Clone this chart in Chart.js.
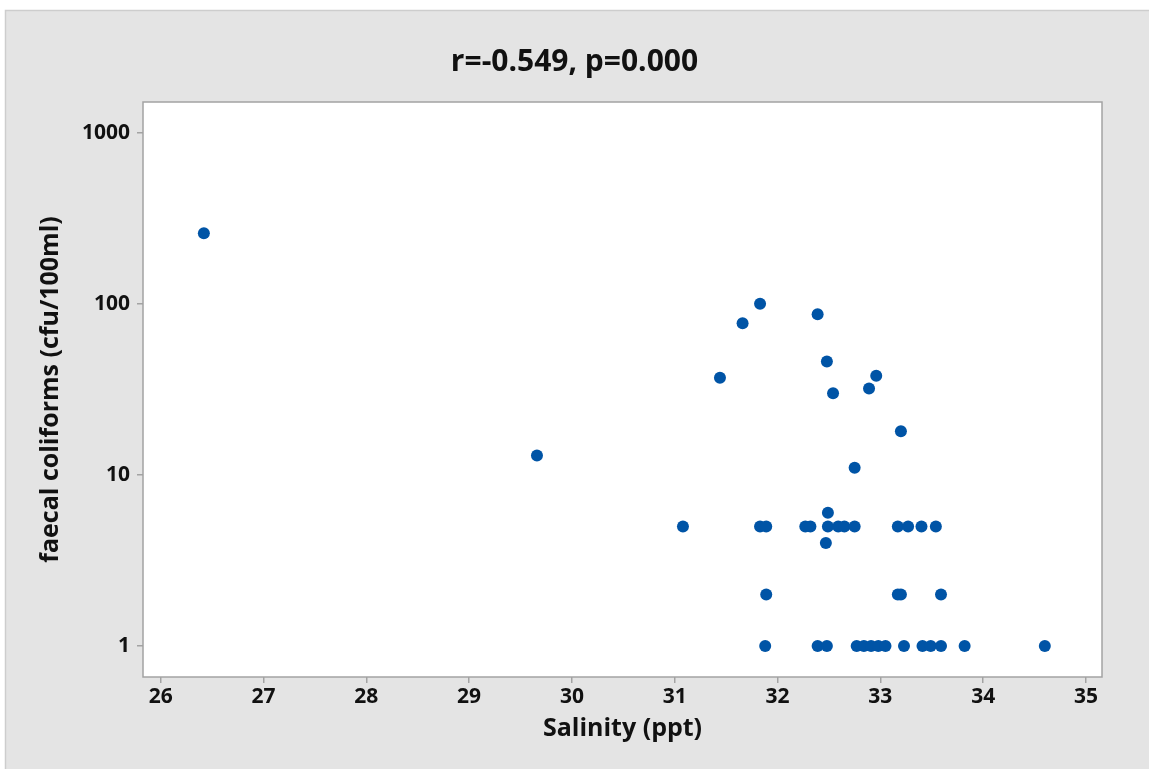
<!DOCTYPE html>
<html>
<head>
<meta charset="utf-8">
<title>Faecal coliforms vs salinity</title>
<script src="https://cdn.jsdelivr.net/npm/chart.js@4/dist/chart.umd.min.js"></script>
<style>
  html, body { margin: 0; padding: 0; background: #ffffff; }
  #wrap { width: 1149px; height: 769px; }
</style>
</head>
<body>
<div id="wrap"><canvas id="salinityChart" width="1149" height="769"></canvas></div>
<script>
// salinity (ppt) and faecal coliform count (cfu/100ml) per sample
const salinity = [
  26.42, 29.66, 31.08, 31.83, 31.66, 32.39, 32.48, 31.44, 32.96, 32.89, 32.54, 33.20, 32.75,
  31.83, 31.89, 32.27, 32.32, 32.49, 32.59, 32.65, 32.75, 33.17, 33.27, 33.40, 33.54,
  32.49, 32.47,
  31.89, 33.17, 33.20, 33.59,
  31.88, 32.39, 32.48, 32.77, 32.84, 32.91, 32.98, 33.05, 33.23, 33.41, 33.49, 33.59, 33.82, 34.60
];
const coliforms = [
  258, 13, 5, 100, 77, 87, 46, 37, 38, 32, 30, 18, 11,
  5, 5, 5, 5, 5, 5, 5, 5, 5, 5, 5, 5,
  6, 4,
  2, 2, 2, 2,
  1, 1, 1, 1, 1, 1, 1, 1, 1, 1, 1, 1, 1, 1
];
const xTicks = [26, 27, 28, 29, 30, 31, 32, 33, 34, 35];
const yTicks = [1, 10, 100, 1000];

const titleText = 'r=-0.549, p=0.000';
const xTitle = 'Salinity (ppt)';
const yTitle = 'faecal coliforms (cfu/100ml)';

const FONT = "'Open Sans', 'Noto Sans', sans-serif";

const points = salinity.map((s, i) => ({ x: s, y: coliforms[i] }));

// grey panel behind everything, white plot area, grey frame
const panelPlugin = {
  id: 'panel',
  beforeDraw(chart) {
    const { ctx, chartArea: a, width, height } = chart;
    ctx.save();
    ctx.fillStyle = '#ffffff';
    ctx.fillRect(0, 0, width, height);
    ctx.fillStyle = '#e4e4e4';
    ctx.fillRect(5, 10, width - 5, height - 10);
    ctx.strokeStyle = '#cdcdcd';
    ctx.lineWidth = 1.5;
    ctx.beginPath();
    ctx.moveTo(5.5, height);
    ctx.lineTo(5.5, 10.5);
    ctx.lineTo(width, 10.5);
    ctx.stroke();
    ctx.fillStyle = '#ffffff';
    ctx.fillRect(a.left, a.top, a.right - a.left, a.bottom - a.top);
    ctx.restore();
  },
  afterDraw(chart) {
    const { ctx, chartArea: a } = chart;
    ctx.save();
    ctx.strokeStyle = '#a3a3a3';
    ctx.lineWidth = 1.5;
    ctx.strokeRect(a.left, a.top, a.right - a.left, a.bottom - a.top);
    ctx.restore();
  }
};

new Chart(document.getElementById('salinityChart'), {
  type: 'scatter',
  data: {
    datasets: [{
      data: points,
      backgroundColor: '#0054a6',
      borderColor: '#0054a6',
      borderWidth: 0,
      pointRadius: 6,
      pointHoverRadius: 6
    }]
  },
  options: {
    responsive: false,
    animation: false,
    layout: { padding: 0 },
    plugins: {
      legend: { display: false },
      tooltip: { enabled: false },
      title: {
        display: true,
        text: titleText,
        color: '#111111',
        font: { family: FONT, size: 30, weight: 'bold' },
        padding: { top: 44, bottom: 22 }
      }
    },
    scales: {
      x: {
        type: 'linear',
        min: 25.828,
        max: 35.156,
        afterBuildTicks: s => { s.ticks = xTicks.map(v => ({ value: v })); },
        afterFit: s => { s.height = 92; },
        ticks: {
          autoSkip: false,
          maxRotation: 0,
          padding: 1,
          color: '#111111',
          font: { family: FONT, size: 21, weight: 'bold' },
          callback: v => String(v)
        },
        grid: { drawOnChartArea: false, tickLength: 6, color: '#a3a3a3', lineWidth: 1.5 },
        border: { display: false },
        title: {
          display: true,
          text: xTitle,
          color: '#111111',
          font: { family: FONT, size: 25, weight: 'bold' },
          padding: { top: 0, bottom: 25 }
        }
      },
      y: {
        type: 'logarithmic',
        min: 0.659,
        max: 1511,
        afterBuildTicks: s => { s.ticks = yTicks.map(v => ({ value: v })); },
        afterFit: s => { s.width = 143; },
        ticks: {
          autoSkip: false,
          padding: 7,
          color: '#111111',
          font: { family: FONT, size: 21, weight: 'bold' },
          callback: v => String(v)
        },
        grid: { drawOnChartArea: false, tickLength: 6, color: '#a3a3a3', lineWidth: 1.5 },
        border: { display: false },
        title: {
          display: true,
          text: yTitle,
          color: '#111111',
          font: { family: FONT, size: 25, weight: 'bold' },
          padding: { top: 36, bottom: 0 }
        }
      },
      // empty right-hand strip so the title centres on the whole panel
      gutter: {
        type: 'linear',
        position: 'right',
        afterFit: s => { s.width = 47; },
        ticks: { display: false },
        grid: { display: false },
        border: { display: false }
      }
    }
  },
  plugins: [panelPlugin]
});
</script>
</body>
</html>
